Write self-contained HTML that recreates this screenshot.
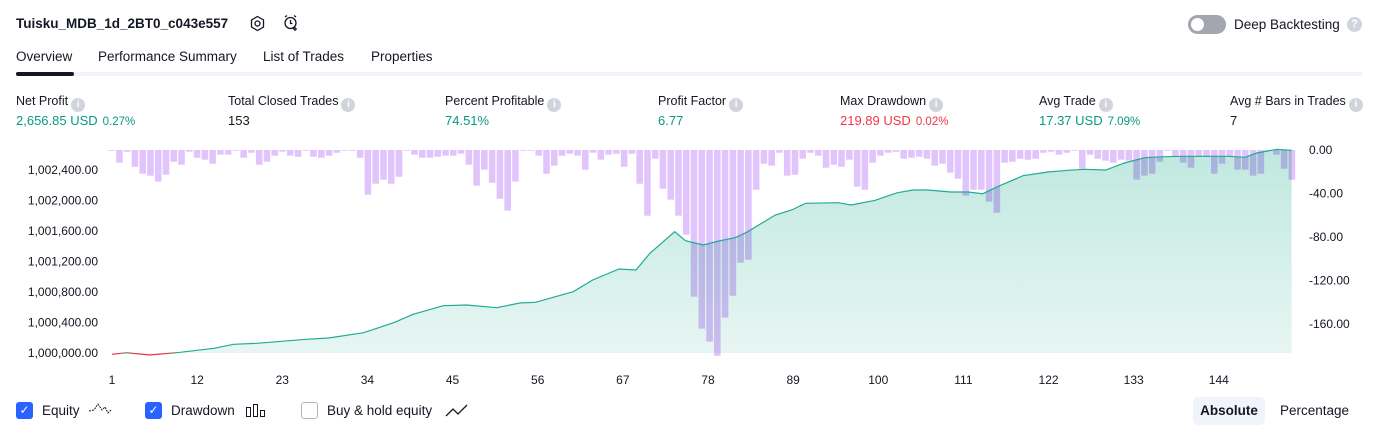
<!DOCTYPE html>
<html><head><meta charset="utf-8">
<style>
body{margin:0;width:1379px;height:435px;overflow:hidden;background:#fff;font-family:"Liberation Sans",sans-serif;color:#131722;position:relative}
.a{position:absolute;white-space:nowrap}
.lbl{font-size:12.5px;color:#131722}
.val{font-size:13px}
.info{display:inline-block;width:14px;height:14px;border-radius:50%;background:#d1d4dc;color:#fff;font-size:10px;text-align:center;line-height:14px;vertical-align:-2px;margin-left:3px;font-weight:bold}
.g{color:#089981}.r{color:#f23645}
.small{font-size:11.5px;margin-left:5px}
.tab{font-size:13.5px;top:49px}
.cb{width:17px;height:17px;border-radius:3px;top:402px}
</style></head><body>
<div class="a" style="left:16px;top:16px;font-size:13.5px;font-weight:bold">Tuisku_MDB_1d_2BT0_c043e557</div>
<svg class="a" style="left:249px;top:15px" width="17" height="17" viewBox="0 0 17 17"><polygon points="8.5,1.5 14.5,5 14.5,12 8.5,15.5 2.5,12 2.5,5" fill="none" stroke="#131722" stroke-width="1.3"/><circle cx="8.5" cy="8.5" r="2.5" fill="none" stroke="#131722" stroke-width="1.3"/></svg>
<svg class="a" style="left:282px;top:14px" width="18" height="18" viewBox="0 0 18 18"><circle cx="8.5" cy="9" r="5.5" fill="none" stroke="#131722" stroke-width="1.3"/><path d="M8.5 6v3.5h2M3 3l2-1.5M14 3l-2-1.5M13 13v4M11 15h4" fill="none" stroke="#131722" stroke-width="1.3"/></svg>
<div class="a" style="left:1188px;top:15px;width:38px;height:19px;border-radius:10px;background:#a3a6af"><div style="position:absolute;left:3px;top:3px;width:13px;height:13px;border-radius:50%;background:#fff"></div></div>
<div class="a" style="left:1234px;top:17px;font-size:13.5px">Deep Backtesting</div>
<div class="a" style="left:1347px;top:17px;width:15px;height:15px;border-radius:50%;background:#d1d4dc;color:#fff;font-size:11px;text-align:center;line-height:15px;font-weight:bold">?</div>

<div class="a tab" style="left:16px">Overview</div>
<div class="a tab" style="left:98px">Performance Summary</div>
<div class="a tab" style="left:263px">List of Trades</div>
<div class="a tab" style="left:371px">Properties</div>
<div class="a" style="left:16px;top:72px;width:1346px;height:4px;background:#f0f3fa"></div>
<div class="a" style="left:16px;top:72px;width:58px;height:4px;border-radius:2px;background:#131722"></div>

<div class="a lbl" style="left:16px;top:94px">Net Profit<span class="info">i</span></div>
<div class="a val g" style="left:16px;top:113px">2,656.85 USD<span class="small">0.27%</span></div>
<div class="a lbl" style="left:228px;top:94px">Total Closed Trades<span class="info">i</span></div>
<div class="a val" style="left:228px;top:113px">153</div>
<div class="a lbl" style="left:445px;top:94px">Percent Profitable<span class="info">i</span></div>
<div class="a val g" style="left:445px;top:113px">74.51%</div>
<div class="a lbl" style="left:658px;top:94px">Profit Factor<span class="info">i</span></div>
<div class="a val g" style="left:658px;top:113px">6.77</div>
<div class="a lbl" style="left:840px;top:94px">Max Drawdown<span class="info">i</span></div>
<div class="a val r" style="left:840px;top:113px">219.89 USD<span class="small">0.02%</span></div>
<div class="a lbl" style="left:1039px;top:94px">Avg Trade<span class="info">i</span></div>
<div class="a val g" style="left:1039px;top:113px">17.37 USD<span class="small">7.09%</span></div>
<div class="a lbl" style="left:1230px;top:94px">Avg # Bars in Trades<span class="info">i</span></div>
<div class="a val" style="left:1230px;top:113px">7</div>

<svg id="chart" class="a" style="left:0;top:0" width="1379" height="395"></svg>

<div class="a cb" style="left:16px;background:#2962ff;color:#fff;font-size:12px;text-align:center;line-height:17px">✓</div>
<div class="a" style="left:42px;top:403px;font-size:13.5px">Equity</div>
<svg class="a" style="left:88px;top:402px" width="24" height="16"><path d="M1 9l5-1 4-6 4 6 3-3 3 6 3-3" fill="none" stroke="#131722" stroke-dasharray="2 1"/></svg>
<div class="a cb" style="left:145px;background:#2962ff;color:#fff;font-size:12px;text-align:center;line-height:17px">✓</div>
<div class="a" style="left:171px;top:403px;font-size:13.5px">Drawdown</div>
<svg class="a" style="left:245px;top:402px" width="22" height="16"><rect x="1.5" y="5.5" width="4" height="9" fill="none" stroke="#131722"/><rect x="8.5" y="2.5" width="4" height="12" fill="none" stroke="#131722"/><rect x="15.5" y="8.5" width="4" height="6" fill="none" stroke="#131722"/></svg>
<div class="a cb" style="left:301px;border:1px solid #b2b5be;box-sizing:border-box;width:17px;height:17px"></div>
<div class="a" style="left:327px;top:403px;font-size:13.5px">Buy &amp; hold equity</div>
<svg class="a" style="left:445px;top:402px" width="24" height="16"><path d="M1 14l7-7 5 5 9-9" fill="none" stroke="#131722" stroke-width="1.3"/></svg>
<div class="a" style="left:1193px;top:397px;width:72px;height:28px;border-radius:5px;background:#f0f3fa;font-size:13.5px;font-weight:bold;text-align:center;line-height:28px">Absolute</div>
<div class="a" style="left:1280px;top:403px;font-size:13.5px">Percentage</div>

<script>
const drawdown = [0.6,11.7,1.6,15.4,21.8,23.6,29.1,22.7,10.8,13.5,1.6,7.1,8.9,12.6,4.3,4.3,0.6,7.1,2.5,13.5,10.8,5.2,1.6,5.2,6.2,0.6,6.2,7.1,5.2,2.5,0.6,0.6,7.1,41.1,31,27.3,31,24.6,0.6,4.3,7.1,7.1,6.2,5.2,5.2,3.4,13.5,32.8,18.1,30.1,44.8,
55.8,29.1,0.6,0.6,5.2,21.8,14.4,5.2,3.4,5.2,18.1,2.5,8.9,4.3,3.4,15.4,3.4,31,60.4,8,35.6,45.7,60.4,77.9,134.9,164.3,176.3,189.2,154.2,134,103.6,100.9,36.5,12.6,14.4,2.5,23.6,22.7,8,2.5,5.2,16.3,13.5,15.4,8.9,33.7,36.5,11.7,5.2,2.5,1.6,
8,7.1,6.2,8,14.4,12.6,20.9,26.4,42,36.5,36.5,47.5,57.7,11.7,10.8,8,8.9,8,2.5,1.6,4.3,2.5,0.6,17.2,4.3,8,9.8,11.7,8.9,9.8,27.3,23.6,21.8,10.8,0.6,6.2,11.7,16.3,6.2,6.2,21.8,12.6,6.2,18.1,18.1,23.6,21.8,0.6,4.3,17.2,27.3];
const eqTrades = [1,2.9,5.9,9.8,14.2,16.7,19.7,26.1,29,33.5,37.4,39.9,43.8,46.8,50.7,53.7,55.7,60.6,63.1,66.5,68.7,70.5,73.7,75.1,77.4,79.4,81.5,83,86.7,88.8,90.6,94.8,96.5,99.6,101.3,102.5,104.5,106.4,109.4,111.6,113.5,115.4,118.7,121.9,124.5,126.6,129.4,131.8,134.4,137,139.5,145.1,147.4,148.9,151.5,153.4];
const eqValues = [999983,1000004,999974,1000009,1000062,1000114,1000127,1000180,1000197,1000266,1000397,1000508,1000620,1000630,1000594,1000656,1000665,1000804,1000957,1001102,1001089,1001308,1001591,1001473,1001416,1001469,1001512,1001583,1001810,1001875,1001963,1001971,1001941,1002003,1002063,1002102,1002138,1002138,1002112,1002112,1002089,1002181,1002325,1002374,1002396,1002409,1002400,1002492,1002561,1002575,1002580,1002580,1002567,1002623,1002672,1002656.85];
const xTicks = [1,12,23,34,45,56,67,78,89,100,111,122,133,144];
const leftTicks = [1000000,1000400,1000800,1001200,1001600,1002000,1002400];
const rightTicks = [0,-40,-80,-120,-160];

const svg=document.getElementById('chart');
const NS='http://www.w3.org/2000/svg';
const X0=112, DX=7.74, BOT=353;
const x=t=>X0+(t-1)*DX;
const BX0=108, BW=(1296-108)/153;
const xb=i=>BX0+i*BW;
const yL=v=>BOT-(v-1000000)*30.5/400;
const yR=v=>150-v*1.0875;
function mk(tag,attrs){const e=document.createElementNS(NS,tag);for(const k in attrs)e.setAttribute(k,attrs[k]);svg.appendChild(e);return e;}
const defs=mk('defs',{});
defs.innerHTML='<linearGradient id="gf" x1="0" y1="0" x2="0" y2="1"><stop offset="0" stop-color="#bfe8df"/><stop offset="1" stop-color="#e8f6f3"/></linearGradient><clipPath id="above"><rect x="100" y="0" width="1200" height="'+yL(1000000)+'"/></clipPath><clipPath id="below"><rect x="100" y="'+yL(1000000)+'" width="1200" height="50"/></clipPath>';
let pts=eqTrades.map((t,i)=>x(t).toFixed(1)+','+yL(eqValues[i]).toFixed(1));
const area=mk('path',{d:'M'+x(eqTrades[0])+','+BOT+' L'+pts.join(' L')+' L'+x(eqTrades[eqTrades.length-1]).toFixed(1)+','+BOT+' Z',fill:'url(#gf)'});


drawdown.forEach((v,i)=>{
  const r=mk('rect',{x:(xb(i)+0.4).toFixed(2),y:150,width:(BW-1.2).toFixed(2),height:Math.max(0.8,yR(-v)-150).toFixed(2),fill:'#e0c4fb',style:'mix-blend-mode:multiply'});
  
  
});
const line=mk('polyline',{points:pts.join(' '),fill:'none',stroke:'#22ab94','stroke-width':1.2,'clip-path':'url(#above)'});


const lineNeg=mk('polyline',{points:pts.join(' '),fill:'none',stroke:'#f23645','stroke-width':1.2,'clip-path':'url(#below)'});


leftTicks.forEach(v=>{
  const t=mk('text',{x:98,y:yL(v)+4,'text-anchor':'end','font-size':12,fill:'#131722'});
  t.textContent=v.toLocaleString('en-US',{minimumFractionDigits:2});
  
  
});
rightTicks.forEach(v=>{
  const t=mk('text',{x:1309,y:yR(v)+4,'font-size':12,fill:'#131722'});
  t.textContent=v.toFixed(2);
  
  
});
xTicks.forEach(v=>{
  const t=mk('text',{x:x(v),y:384,'text-anchor':'middle','font-size':12,fill:'#131722'});
  t.textContent=v;
  
  
});
</script>
</body></html>
